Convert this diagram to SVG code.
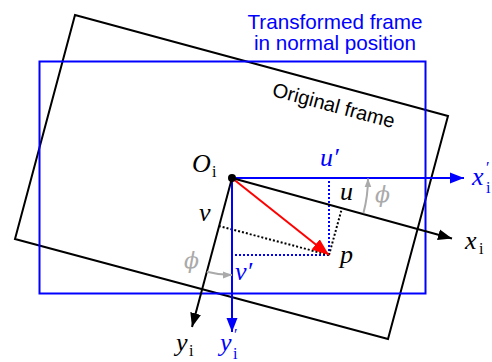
<svg xmlns="http://www.w3.org/2000/svg" width="492" height="362" viewBox="0 0 492 362">
<style>
.frame{fill:none;stroke-width:2}
.ax{stroke-width:2;fill:none}
.dot{stroke-width:2;stroke-dasharray:2,2;fill:none}
.m{font-family:"Liberation Serif","DejaVu Serif",serif;font-style:italic;font-size:26px}
.ph{font-family:"DejaVu Serif",serif;font-style:italic;font-size:22px}
.sub{font-family:"Liberation Serif","DejaVu Serif",serif;font-style:normal;font-size:16px}
.pr{font-size:16px;font-style:normal}
.lab{font-family:"Liberation Sans",Arial,sans-serif;font-size:20.7px}
</style>
<defs>
<marker id="ab" markerUnits="userSpaceOnUse" markerWidth="16" markerHeight="12" refX="14" refY="6" orient="auto"><path d="M0,0.5 L14,6 L0,11.5 z" fill="#000"/></marker>
<marker id="abl" markerUnits="userSpaceOnUse" markerWidth="16" markerHeight="12" refX="14" refY="6" orient="auto"><path d="M0,0.5 L14,6 L0,11.5 z" fill="#0000ff"/></marker>
<marker id="ar" markerUnits="userSpaceOnUse" markerWidth="18" markerHeight="14" refX="17" refY="7" orient="auto"><path d="M0,0.5 L17,7 L0,13.5 z" fill="#ff0000"/></marker>
<marker id="ag" markerUnits="userSpaceOnUse" markerWidth="10" markerHeight="8" refX="9" refY="4" orient="auto"><path d="M0,0.5 L9,4 L0,7.5 z" fill="#aaaaaa"/></marker>
</defs>
<g id="original-frame">
<polygon class="frame" stroke="#000" points="75,15 448,116 388,339 15,239"/>
<text class="lab" style="font-size:20px" fill="#000" text-anchor="middle" transform="translate(332,112) rotate(15)">Original frame</text>
</g>
<g id="transformed-frame">
<rect class="frame" stroke="#0000ff" x="39.5" y="61.5" width="386" height="232"/>
<text class="lab" fill="#0000ff" text-anchor="middle" x="335" y="29">Transformed frame</text>
<text class="lab" fill="#0000ff" text-anchor="middle" x="335" y="50">in normal position</text>
</g>
<g id="connectors">
<path class="dot" stroke="#0000ff" d="M329,255 L329,178 M329,255 L232,255"/>
<path class="dot" stroke="#000" d="M329,255 L342,208 M329,255 L219,226"/>
<line class="ax" stroke="#0000ff" x1="232" y1="178" x2="464" y2="178" marker-end="url(#abl)"/>
<line class="ax" stroke="#0000ff" x1="232" y1="178" x2="232" y2="332" marker-end="url(#abl)"/>
<line class="ax" stroke="#000" x1="232" y1="178" x2="452" y2="238.5" marker-end="url(#ab)"/>
<line class="ax" stroke="#000" x1="232" y1="178" x2="192" y2="327" marker-end="url(#ab)"/>
<line class="ax" stroke="#ff0000" x1="232" y1="178" x2="329" y2="255" marker-end="url(#ar)"/>
<path fill="none" stroke="#aaaaaa" stroke-width="2" d="M206.9,271.7 A97 97 0 0 0 232 275" marker-end="url(#ag)"/>
<path fill="none" stroke="#aaaaaa" stroke-width="2" d="M363.4,213.2 A136 136 0 0 0 368 178.5" marker-end="url(#ag)"/>
</g>
<g id="origin">
<circle cx="232" cy="178" r="4" fill="#000"/>
<text class="m" x="192" y="172">O<tspan class="sub" x="212" y="177">i</tspan></text>
</g>
<g id="labels">
<text class="m" fill="#0000ff" x="320" y="166">u′</text>
<text class="m" fill="#000" x="340" y="200">u</text>
<text class="ph" fill="#aaaaaa" x="375" y="202">ϕ</text>
<text class="m" fill="#000" x="199" y="221">v</text>
<text class="ph" fill="#aaaaaa" x="184" y="268">ϕ</text>
<text class="m" fill="#0000ff" x="235" y="280">v′</text>
<text class="m" fill="#000" x="340" y="263">p</text>
<text class="m" fill="#0000ff" x="472" y="185">x<tspan class="pr" x="486" y="173">′</tspan><tspan class="sub" x="486" y="193">i</tspan></text>
<text class="m" fill="#000" x="465" y="249">x<tspan class="sub" x="479" y="254">i</tspan></text>
<text class="m" fill="#000" x="176" y="351">y<tspan class="sub" x="189" y="356">i</tspan></text>
<text class="m" fill="#0000ff" x="220" y="351">y<tspan class="pr" x="234" y="340">′</tspan><tspan class="sub" x="233" y="359">i</tspan></text>
</g>
</svg>
